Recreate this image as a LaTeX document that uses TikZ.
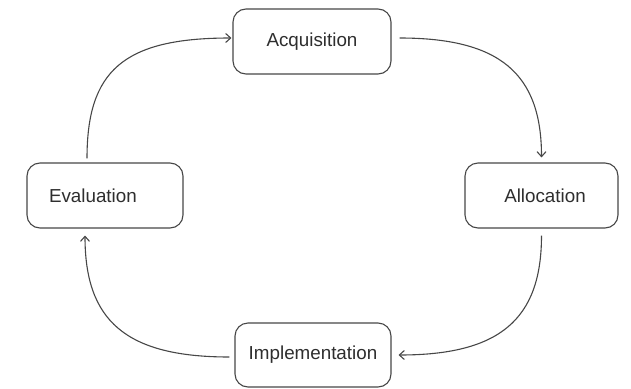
\documentclass[tikz,border=0pt]{standalone}
\usepackage{fontspec}
\setmainfont{Liberation Sans}
\usetikzlibrary{arrows.meta}
\begin{document}
\begin{tikzpicture}[x=1pt,y=-1pt,
  stage/.style={draw=black!72, line width=1.1pt, rounded corners=13pt, fill=white,
    minimum width=#1, minimum height=65pt, inner sep=0pt,
    font=\fontsize{18.8}{22}\selectfont, text=black!82},
  flow/.style={draw=black!72, line width=1.1pt, -{Straight Barb[length=5pt,width=9pt]}}]
\useasboundingbox (0,0) rectangle (631,388);

% the four stages of the cycle
\node[stage=158pt] (acq)  at (312,41.5)  {Acquisition};
\node[stage=153pt] (all)  at (541.5,195.5) {\hspace*{7pt}Allocation};
\node[stage=156pt, text width=112pt, inner xsep=22pt, align=left] (eva) at (105,195.5) {Evaluation};
\node[stage=156pt, minimum height=64pt] (imp) at (313,355) {Implementation};

% curved connectors running clockwise
\draw[flow, shorten <=8pt, shorten >=5pt]
  ([yshift=3.5pt]acq.east) .. controls +(107,0) and +(0,-90) .. (all.north);
\draw[flow, shorten <=7pt, shorten >=7pt]
  (all.south) .. controls +(0,91) and +(108,0) .. (imp.east);
\draw[flow, shorten <=5pt, shorten >=7pt]
  ([yshift=-2pt]imp.west) .. controls +(-109,0) and +(0,92) .. ([xshift=-20pt]eva.south);
\draw[flow, shorten <=4pt, shorten >=1pt]
  ([xshift=-18pt]eva.north) .. controls +(0,-91) and +(-110,0) .. ([yshift=3.5pt]acq.west);
\end{tikzpicture}
\end{document}
